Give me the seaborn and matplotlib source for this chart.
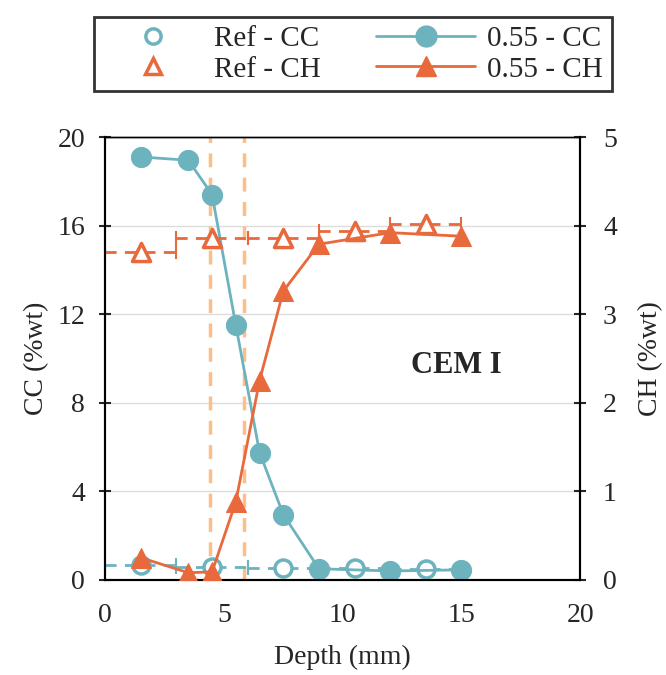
import numpy as np
import pandas as pd
import matplotlib
matplotlib.use("Agg")
import matplotlib.pyplot as plt
import seaborn as sns

sns.set_style("white")
plt.rcParams["font.family"] = ["Liberation Serif", "DejaVu Serif"]

# data
depth_055 = [1.5, 3.5, 4.5, 5.5, 6.5, 7.5, 9, 12, 15]
cc_055 = [19.1, 18.95, 17.4, 11.5, 5.75, 2.95, 0.5, 0.4, 0.45]
ch_055 = [0.25, 0.08, 0.09, 0.88, 2.25, 3.26, 3.79, 3.92, 3.88]

depth_ref = [1.5, 4.5, 7.5, 10.5, 13.5]
cc_ref = [0.65, 0.6, 0.55, 0.55, 0.5]
ch_ref = [3.70, 3.86, 3.86, 3.94, 4.02]
ref_width = 1.5

front_lines = [4.4, 5.85]

teal = "#6DB3BE"
orange = "#E8693B"
light_orange = "#FDBE88"

df055 = pd.DataFrame({"Depth": depth_055, "CC": cc_055, "CH": ch_055})
dfref = pd.DataFrame({"Depth": depth_ref, "CC": cc_ref, "CH": ch_ref})

fig = plt.figure(figsize=(6.66, 6.75), dpi=100)
ax = fig.add_axes([0.158, 0.141, 0.713, 0.656])
ax2 = ax.twinx()

for x in front_lines:
    ax.axvline(x, color=light_orange, lw=2.5, ls=(0, (4, 3)), zorder=1)

# reference series: horizontal dashed error bars
eb = ax.errorbar(dfref["Depth"], dfref["CC"], xerr=ref_width, fmt="none",
                 ecolor=teal, elinewidth=2, capsize=5, capthick=1.5, zorder=2)
eb[2][0].set_linestyle((0, (4, 3)))
sns.scatterplot(data=dfref, x="Depth", y="CC", ax=ax, marker="o", s=150,
                facecolor="white", edgecolor=teal, linewidth=2.5, zorder=3,
                legend=False)

eb2 = ax2.errorbar(dfref["Depth"], dfref["CH"], xerr=ref_width, fmt="none",
                   ecolor=orange, elinewidth=2, capsize=5, capthick=1.5, zorder=2)
eb2[2][0].set_linestyle((0, (4, 3)))

sns.lineplot(data=df055, x="Depth", y="CC", ax=ax, color=teal, lw=2,
             marker="o", markersize=14.5, markeredgecolor=teal, zorder=4,
             legend=False)

sns.scatterplot(data=dfref, x="Depth", y="CH", ax=ax2, marker="^", s=170,
                facecolor="white", edgecolor=orange, linewidth=2.5, zorder=3,
                legend=False)
sns.lineplot(data=df055, x="Depth", y="CH", ax=ax2, color=orange, lw=2,
             marker="^", markersize=14.5, markeredgecolor=orange, zorder=4,
             legend=False)

ax.set_xlim(0, 20)
ax.set_ylim(0, 20)
ax2.set_ylim(0, 5)
ax.set_xticks([0, 5, 10, 15, 20])
ax.set_yticks([0, 4, 8, 12, 16, 20])
ax2.set_yticks([0, 1, 2, 3, 4, 5])
ax.yaxis.grid(True, color="#DDDDDD", lw=1)
ax.set_axisbelow(True)

ax.set_xlabel("Depth (mm)", fontsize=20, labelpad=12)
ax.set_ylabel("CC (%wt)", fontsize=20, labelpad=6)
ax2.set_ylabel("CH (%wt)", fontsize=20, labelpad=15)
ax.tick_params(axis="x", direction="inout", length=9, width=1.5, labelsize=20, pad=12)
ax.tick_params(axis="y", direction="inout", length=9, width=1.5, labelsize=20, pad=10)
ax2.tick_params(axis="y", direction="inout", length=9, width=1.5, labelsize=20, pad=12)
for a in (ax, ax2):
    for sp in a.spines.values():
        sp.set_linewidth(1.5)
        sp.set_color("black")
    a.spines["top"].set_linewidth(1.0)

ax.text(14.8, 9.7, "CEM I", fontsize=22, fontweight="bold", ha="center", va="center")

handles = [
    plt.Line2D([], [], ls="none", marker="o", ms=11, mfc="white", mec=teal, mew=2.5),
    plt.Line2D([], [], ls="none", marker="^", ms=12, mfc="white", mec=orange, mew=2.5),
    plt.Line2D([], [], color=teal, lw=2, marker="o", ms=15),
    plt.Line2D([], [], color=orange, lw=2, marker="^", ms=15),
]
labels = ["Ref - CC", "Ref - CH", "0.55 - CC", "0.55 - CH"]
leg = fig.legend(handles, labels, ncol=2, loc="center", bbox_to_anchor=(0.53, 0.92),
                 fontsize=21, frameon=True, fancybox=False, edgecolor="black",
                 handlelength=3.4, columnspacing=1.9, handletextpad=0.4,
                 labelspacing=0.15, borderpad=0.3)
leg.get_frame().set_linewidth(2)

fig.savefig("out.png", dpi=100)
